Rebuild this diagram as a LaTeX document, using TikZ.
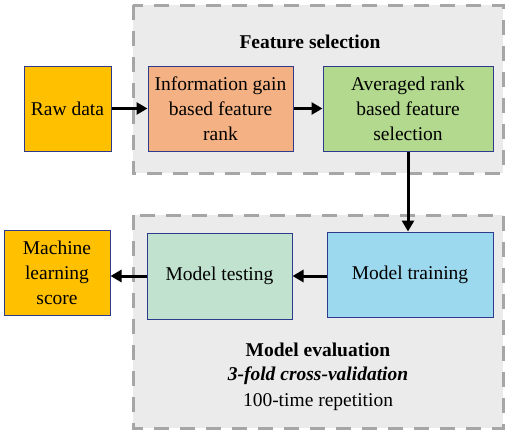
\documentclass[tikz,border=0pt]{standalone}
\usepackage{fontspec}
\setmainfont{Liberation Serif}
\usetikzlibrary{arrows.meta, positioning}

\definecolor{rawyellow}{HTML}{FFC000}
\definecolor{gainorange}{HTML}{F4B183}
\definecolor{rankgreen}{HTML}{B2D98E}
\definecolor{testgreen}{HTML}{C0E2CF}
\definecolor{trainblue}{HTML}{9DD9EE}
\definecolor{stageedge}{HTML}{2E3A8C}
\definecolor{panelfill}{HTML}{EBEBEB}
\definecolor{paneledge}{HTML}{A6A6A6}

\begin{document}
\begin{tikzpicture}[
    x=1pt, y=-1pt,
    >={Triangle[length=11pt, width=12pt]}, % Set default arrow tip style
    stage/.style={draw=stageedge, line width=1pt, align=center, inner sep=2pt,
                  font=\fontsize{19.5}{25}\selectfont}, % Style for the boxes
    panel/.style={fill=panelfill, draw=paneledge, line width=3pt,
                  dash pattern=on 15pt off 11pt}, % Style for the grey groups
    flow/.style={->, line width=3pt, black},
    caption/.style={font=\fontsize{19.5}{26}\selectfont}
]
\useasboundingbox (0,0) rectangle (510,434);

% Grey dashed groups
\draw[panel] (133,5) rectangle (503,173);
\draw[panel] (133,215) rectangle (503,428);

% Group titles
\node[caption] (fstitle) at (310,42) {\textbf{Feature selection}};
\node[caption] (evtitle) at (318,350) {\textbf{Model evaluation}};
\node[caption] (cvtext) at (318,376) {\textbf{\textit{3-fold cross-validation}}};
\node[caption] (reptext) at (318,402) {100-time repetition};

% Boxes of the first row
\node[stage, fill=rawyellow, minimum width=87pt, minimum height=85pt] (raw) at (67.5,108.5) {Raw data};
\node[stage, fill=gainorange, minimum width=145pt, minimum height=85pt] (gain) at (220.5,108.5)
    {Information gain\\based feature\\rank};
\node[stage, fill=rankgreen, minimum width=170pt, minimum height=85pt] (avg) at (408,108.5)
    {Averaged rank\\based feature\\selection};

% Boxes of the second row
\node[stage, fill=rawyellow, minimum width=106pt, minimum height=85pt] (score) at (57,272.5)
    {Machine\\learning\\score};
\node[stage, fill=testgreen, minimum width=145pt, minimum height=86pt] (test) at (219.5,276) {Model testing};
\node[stage, fill=trainblue, minimum width=166pt, minimum height=85pt] (train) at (410,274.5) {Model training};

% Arrows
\draw[flow] (raw) -- (gain);
\draw[flow] (gain) -- (avg);
\draw[flow] (avg.south) -- (avg.south |- train.north);
\draw[flow] (train.west |- test.east) -- (test.east);
\draw[flow] (test.west) -- (test.west -| score.east);

\end{tikzpicture}
\end{document}
